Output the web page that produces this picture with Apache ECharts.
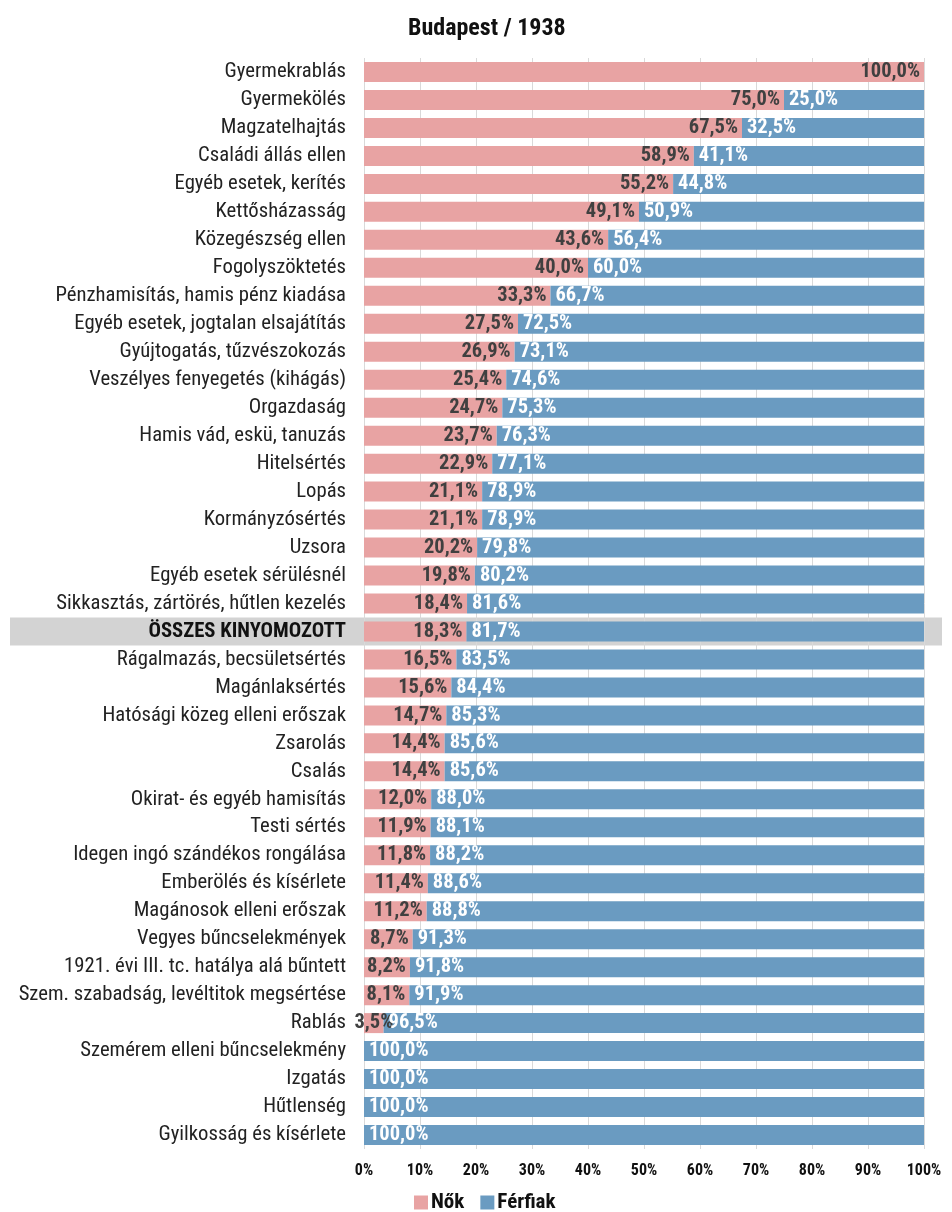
<!DOCTYPE html>
<html><head><meta charset="utf-8">
<script src="https://cdn.jsdelivr.net/npm/echarts@6/dist/echarts.min.js"></script>
<style>html,body{margin:0;padding:0;background:#fff}#c{width:952px;height:1212px}</style>
</head><body><div id="c"></div>
<script>
const categories = ["Gyermekrablás","Gyermekölés","Magzatelhajtás","Családi állás ellen","Egyéb esetek, kerítés","Kettősházasság","Közegészség ellen","Fogolyszöktetés","Pénzhamisítás, hamis pénz kiadása","Egyéb esetek, jogtalan elsajátítás","Gyújtogatás, tűzvészokozás","Veszélyes fenyegetés (kihágás)","Orgazdaság","Hamis vád, eskü, tanuzás","Hitelsértés","Lopás","Kormányzósértés","Uzsora","Egyéb esetek sérülésnél","Sikkasztás, zártörés, hűtlen kezelés","ÖSSZES KINYOMOZOTT","Rágalmazás, becsületsértés","Magánlaksértés","Hatósági közeg elleni erőszak","Zsarolás","Csalás","Okirat- és egyéb hamisítás","Testi sértés","Idegen ingó szándékos rongálása","Emberölés és kísérlete","Magánosok elleni erőszak","Vegyes bűncselekmények","1921. évi III. tc. hatálya alá bűntett","Szem. szabadság, levéltitok megsértése","Rablás","Szemérem elleni bűncselekmény","Izgatás","Hűtlenség","Gyilkosság és kísérlete"];
const nok = [100.0,75.0,67.5,58.9,55.2,49.1,43.6,40.0,33.3,27.5,26.9,25.4,24.7,23.7,22.9,21.1,21.1,20.2,19.8,18.4,18.3,16.5,15.6,14.7,14.4,14.4,12.0,11.9,11.8,11.4,11.2,8.7,8.2,8.1,3.5,0,0,0,0];
const ferfiak = [0,25.0,32.5,41.1,44.8,50.9,56.4,60.0,66.7,72.5,73.1,74.6,75.3,76.3,77.1,78.9,78.9,79.8,80.2,81.6,81.7,83.5,84.4,85.3,85.6,85.6,88.0,88.1,88.2,88.6,88.8,91.3,91.8,91.9,96.5,100.0,100.0,100.0,100.0];
const xTicks = [0,10,20,30,40,50,60,70,80,90,100];
const highlight = "ÖSSZES KINYOMOZOTT";

const FONT = '"Roboto Condensed","Liberation Sans Narrow","Roboto",sans-serif';
const fmt = p => p.value > 0 ? p.value.toFixed(1).replace('.', ',') + '%' : '';

const chart = echarts.init(document.getElementById('c'), null, {renderer:'canvas'});
const option = {
  animation:false,
  backgroundColor:'#fff',
  title:{text:'Budapest / 1938', left:403, top:12,
    textStyle:{fontFamily:FONT, fontSize:24, fontWeight:'bold', color:'#111'}},
  legend:{top:1187, left:409, itemWidth:14, itemHeight:14, itemGap:16, icon:'rect',
    textStyle:{fontFamily:FONT, fontSize:21, fontWeight:'bold', color:'#111', padding:[0,0,0,-2]},
    data:['Nők','Férfiak']},
  grid:{left:364, right:28, top:58, bottom:63, containLabel:false},
  xAxis:{type:'value', min:0, max:100, interval:10,
    axisLine:{show:false}, axisTick:{show:false},
    splitLine:{show:true, lineStyle:{color:'#d9d9d9', width:1}},
    axisLabel:{formatter: v => v + '%', fontFamily:FONT, fontSize:16, fontWeight:'bold', color:'#111', margin:14}},
  yAxis:{type:'category', data:categories, inverse:true,
    axisLine:{show:false}, axisTick:{show:false},
    axisLabel:{fontFamily:FONT, fontSize:20.7, color:'#222', margin:18,
      formatter: v => v === highlight ? '{b|' + v + '}' : v,
      rich:{b:{fontFamily:FONT, fontSize:20.7, fontWeight:'bold', color:'#111'}}}},
  series:[
    {name:'Nők', type:'bar', stack:'t', barWidth:20, z:3,
      data: nok.map(v => (v > 0 && v < 6) ? {value:v, label:{position:'inside'}} : v),
      itemStyle:{color:'#E8A3A3'},
      label:{show:true, position:'insideRight', distance:4, formatter:fmt,
        fontFamily:FONT, fontSize:20.5, fontWeight:'bold', color:'#404040'}},
    {name:'Férfiak', type:'bar', stack:'t', data:ferfiak, barWidth:20, z:3,
      itemStyle:{color:'#6A9BC1'},
      label:{show:true, position:'insideLeft', distance:5, formatter:fmt,
        fontFamily:FONT, fontSize:20.5, fontWeight:'bold', color:'#fff'}}
  ]
};
chart.setOption(option);
const yc = chart.convertToPixel({yAxisIndex:0}, highlight);
const y1 = chart.convertToPixel({yAxisIndex:0}, categories[0]);
const y2 = chart.convertToPixel({yAxisIndex:0}, categories[1]);
const band = Math.abs(y2 - y1);
chart.setOption({graphic:[{type:'rect', z:-1, silent:true,
  shape:{x:10, y:yc - band/2, width:932, height:band},
  style:{fill:'#D3D3D3'}}]});
</script></body></html>
